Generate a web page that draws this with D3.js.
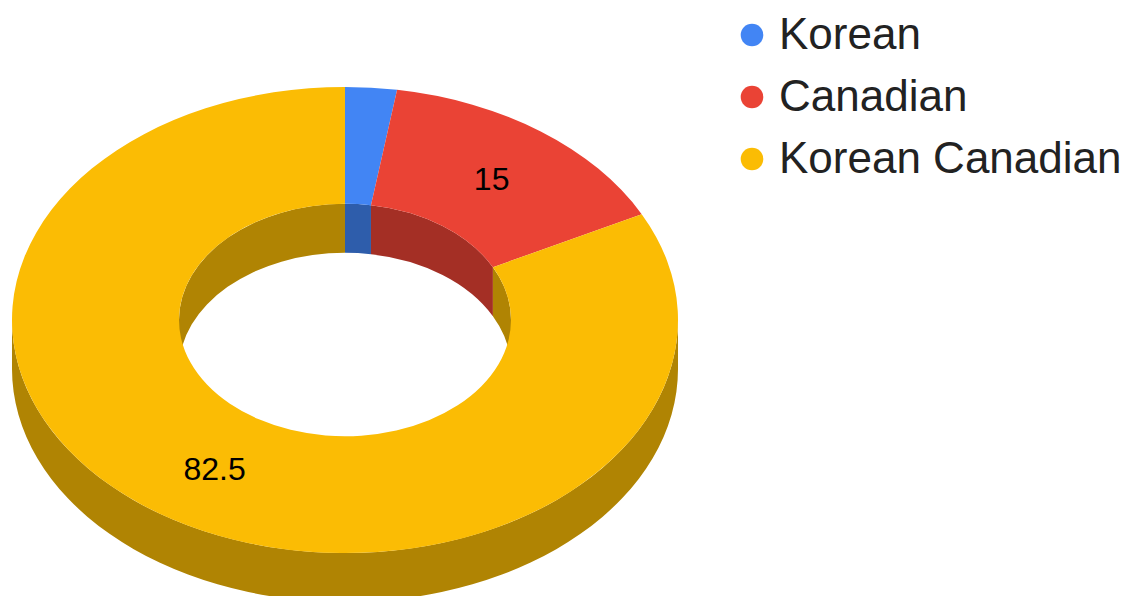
<!DOCTYPE html>
<html>
<head>
<meta charset="utf-8">
<script src="https://cdn.jsdelivr.net/npm/d3@7"></script>
<style>
  html, body { margin: 0; padding: 0; background: #fff; }
  svg { display: block; }
</style>
</head>
<body>
<svg id="chart" width="1131" height="596"></svg>
<script>
// Population shares by identity
const categories = ["Korean", "Canadian", "Korean Canadian"];
const values = [2.5, 15, 82.5];
const labels = ["", "15", "82.5"];
const colors = ["#4285f4", "#ea4335", "#fbbc04"];

const W = 1131, H = 596;
const cx = 345, cy = 320;
const outerR = 333, innerR = 166;
const tilt = 0.7;          // vertical squash of the disc
const depth = 49;          // visible thickness in screen pixels
const D = depth / tilt;    // thickness in unsquashed units

const svg = d3.select("#chart");

const pie = d3.pie().sort(null).value(d => d.value);
const arcs = pie(categories.map((c, i) => ({ name: c, value: values[i], color: colors[i], label: labels[i] })));

const shade = c => { const r = d3.rgb(c); return d3.rgb(r.r * 0.7, r.g * 0.7, r.b * 0.7).toString(); };

// Disc drawn in unsquashed units, then flattened
const disc = svg.append("g").attr("transform", `translate(${cx},${cy}) scale(1,${tilt})`);

// clockwise-from-top angle -> canvas angle
const toStd = a => a - Math.PI / 2;

function wall(r, a0, a1) {
  const p = d3.path();
  const s0 = toStd(a0), s1 = toStd(a1);
  p.moveTo(r * Math.cos(s0), r * Math.sin(s0));
  p.arc(0, 0, r, s0, s1, false);
  p.lineTo(r * Math.cos(s1), r * Math.sin(s1) + D);
  p.arc(0, D, r, s1, s0, true);
  p.closePath();
  return p.toString();
}

function clipRange(a0, a1, lo, hi) {
  const out = [];
  for (const k of [-1, 0, 1]) {
    const l = lo + k * 2 * Math.PI, h = hi + k * 2 * Math.PI;
    const s = Math.max(a0, l), e = Math.min(a1, h);
    if (e > s) out.push([s, e]);
  }
  return out;
}

// Outer side: front half (3 o'clock through 6 to 9 o'clock)
arcs.forEach(d => {
  clipRange(d.startAngle, d.endAngle, Math.PI / 2, 3 * Math.PI / 2).forEach(([s, e]) => {
    disc.append("path").attr("d", wall(outerR, s, e)).attr("fill", shade(d.data.color));
  });
});

// Inner side of the hole: far half (9 o'clock through 12 to 3 o'clock)
arcs.forEach(d => {
  clipRange(d.startAngle, d.endAngle, -Math.PI / 2, Math.PI / 2).forEach(([s, e]) => {
    disc.append("path").attr("d", wall(innerR, s, e)).attr("fill", shade(d.data.color));
  });
});

// Top faces
const arcGen = d3.arc().innerRadius(innerR).outerRadius(outerR);
disc.selectAll("path.top").data(arcs).join("path")
  .attr("class", "top")
  .attr("d", arcGen)
  .attr("fill", d => d.data.color);

// Value labels at the middle of each slice
const midR = (innerR + outerR) / 2;
svg.append("g").selectAll("text").data(arcs.filter(d => d.data.label)).join("text")
  .attr("x", d => cx + midR * Math.sin((d.startAngle + d.endAngle) / 2))
  .attr("y", d => cy - midR * tilt * Math.cos((d.startAngle + d.endAngle) / 2))
  .attr("dy", "0.36em")
  .attr("text-anchor", "middle")
  .attr("font-family", "'Liberation Sans', Arial, sans-serif")
  .attr("font-size", 32)
  .attr("fill", "#000")
  .text(d => d.data.label);

// Legend
const legend = svg.append("g").attr("transform", "translate(752,35)");
const item = legend.selectAll("g").data(arcs).join("g")
  .attr("transform", (d, i) => `translate(0,${i * 62})`);
item.append("circle").attr("r", 11.3).attr("fill", d => d.data.color);
item.append("text")
  .attr("x", 27)
  .attr("y", 14)
  .attr("font-family", "'Liberation Sans', Arial, sans-serif")
  .attr("font-size", 44)
  .attr("fill", "#222")
  .text(d => d.data.name);
</script>
</body>
</html>
